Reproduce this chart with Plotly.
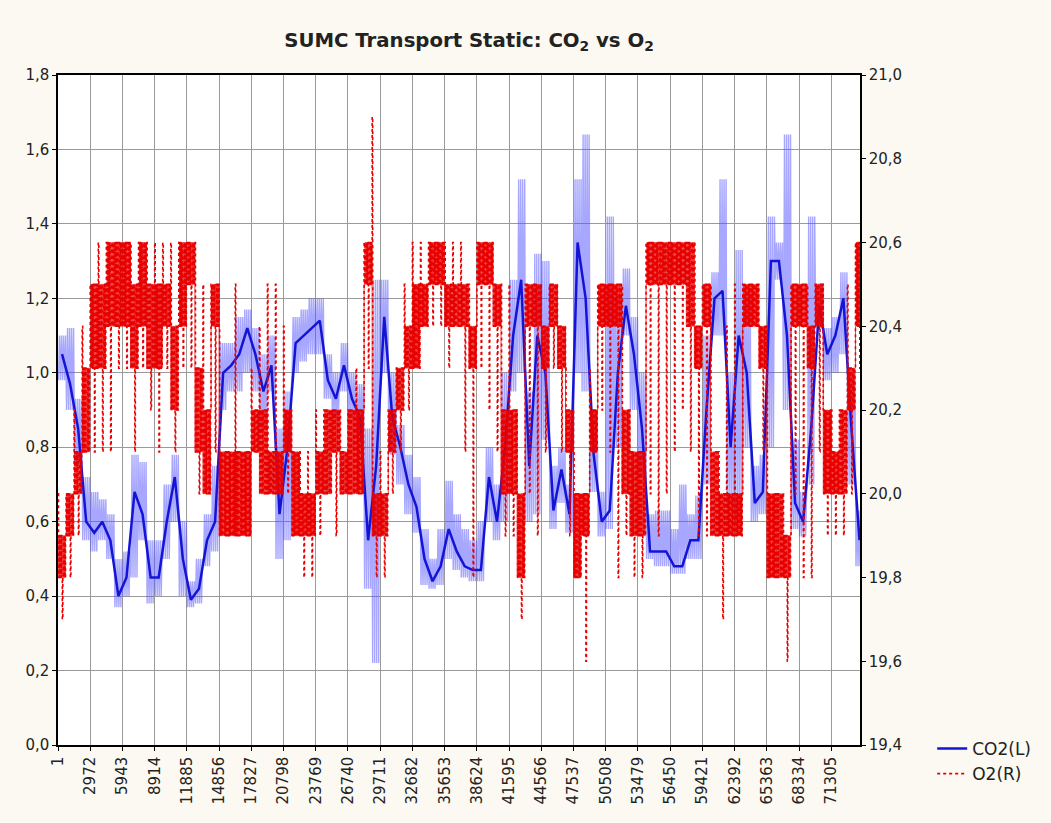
import plotly.graph_objects as go

# ---------------- data ----------------
title_text = "<b>SUMC Transport Static: CO<sub>2</sub> vs O<sub>2</sub></b>"
tick_labels = ["1", "2972", "5943", "8914", "11885", "14856", "17827", "20798",
               "23769", "26740", "29711", "32682", "35653", "38624", "41595",
               "44566", "47537", "50508", "53479", "56450", "59421", "62392",
               "65363", "68334", "71305"]
n_samples = 73950          # last sample index shown on the x axis
bins_per_label = 4         # values below are read per quarter of a label interval

# CO2 (left axis): dark core value, and the light band low / high per bin
co2 = [1.05, 0.97, 0.85, 0.60, 0.57, 0.60, 0.55, 0.40, 0.45, 0.68, 0.62, 0.45,
       0.45, 0.60, 0.72, 0.50, 0.39, 0.42, 0.55, 0.60, 1.00, 1.02, 1.05, 1.12,
       1.05, 0.95, 1.02, 0.62, 0.80, 1.08, 1.10, 1.12, 1.14, 0.98, 0.93, 1.02,
       0.93, 0.88, 0.55, 0.75, 1.15, 0.88, 0.80, 0.70, 0.64, 0.50, 0.44, 0.48,
       0.58, 0.52, 0.48, 0.47, 0.47, 0.72, 0.60, 0.80, 1.10, 1.25, 0.75, 1.10,
       1.00, 0.63, 0.74, 0.62, 1.35, 1.20, 0.78, 0.60, 0.63, 1.00, 1.18, 1.05,
       0.85, 0.52, 0.52, 0.52, 0.48, 0.48, 0.55, 0.55, 0.90, 1.20, 1.22, 0.80,
       1.10, 1.00, 0.65, 0.68, 1.30, 1.30, 1.10, 0.65, 0.60, 0.85, 1.18, 1.05,
       1.10, 1.20, 0.85, 0.55]
co2_lo = [0.98, 0.90, 0.75, 0.55, 0.52, 0.55, 0.50, 0.37, 0.40, 0.45, 0.55, 0.38,
          0.40, 0.50, 0.60, 0.40, 0.37, 0.38, 0.48, 0.52, 0.90, 0.95, 0.95, 1.00,
          0.95, 0.85, 0.95, 0.50, 0.55, 1.00, 1.03, 1.05, 1.05, 0.93, 0.88, 0.95,
          0.88, 0.83, 0.42, 0.22, 1.00, 0.78, 0.70, 0.62, 0.57, 0.43, 0.42, 0.43,
          0.50, 0.47, 0.45, 0.44, 0.44, 0.60, 0.55, 0.60, 0.95, 1.00, 0.60, 0.62,
          0.82, 0.58, 0.65, 0.57, 1.00, 0.95, 0.68, 0.56, 0.58, 0.80, 1.10, 0.90,
          0.72, 0.50, 0.48, 0.48, 0.46, 0.46, 0.50, 0.50, 0.70, 1.10, 1.10, 0.65,
          0.60, 0.80, 0.60, 0.62, 0.80, 1.25, 0.90, 0.58, 0.56, 0.70, 1.12, 0.98,
          1.00, 1.05, 0.70, 0.48]
co2_hi = [1.10, 1.12, 0.93, 0.72, 0.68, 0.66, 0.62, 0.50, 0.52, 0.78, 0.76, 0.55,
          0.55, 0.70, 0.78, 0.60, 0.44, 0.50, 0.62, 0.75, 1.08, 1.08, 1.15, 1.17,
          1.12, 1.05, 1.10, 0.85, 0.95, 1.15, 1.17, 1.20, 1.20, 1.05, 1.00, 1.08,
          1.00, 0.97, 0.85, 1.25, 1.25, 1.00, 0.86, 0.78, 0.72, 0.58, 0.50, 0.58,
          0.71, 0.62, 0.58, 0.55, 0.60, 0.80, 0.70, 1.00, 1.25, 1.52, 0.95, 1.32,
          1.30, 0.75, 0.80, 0.70, 1.52, 1.64, 0.90, 0.68, 1.42, 1.20, 1.28, 1.15,
          1.00, 0.62, 0.63, 0.63, 0.58, 0.70, 0.62, 0.67, 1.10, 1.27, 1.52, 1.00,
          1.33, 1.20, 0.75, 0.78, 1.42, 1.35, 1.64, 0.82, 0.68, 1.42, 1.24, 1.12,
          1.15, 1.27, 1.00, 0.63]

# O2 (right axis): the two levels it flickers between, and its extreme excursions
o2_lo = [19.8, 19.9, 20.0, 20.1, 20.3, 20.3, 20.4, 20.4, 20.4, 20.3, 20.4, 20.3,
         20.3, 20.4, 20.2, 20.4, 20.5, 20.1, 20.0, 20.4, 19.9, 19.9, 19.9, 19.9,
         20.1, 20.0, 20.0, 20.0, 20.1, 19.9, 19.9, 19.9, 20.0, 20.0, 20.1, 20.0,
         20.0, 20.0, 20.5, 19.9, 19.9, 20.1, 20.2, 20.3, 20.3, 20.4, 20.5, 20.5,
         20.4, 20.4, 20.4, 20.3, 20.5, 20.5, 20.4, 20.0, 20.0, 19.8, 20.4, 20.4,
         20.3, 20.4, 20.3, 20.1, 19.8, 19.9, 20.1, 20.4, 20.4, 20.4, 20.0, 19.9,
         19.9, 20.5, 20.5, 20.5, 20.5, 20.5, 20.4, 20.3, 20.4, 19.9, 19.9, 19.9,
         19.9, 20.4, 20.4, 20.3, 19.8, 19.8, 19.8, 20.4, 20.4, 20.3, 20.4, 20.0,
         20.0, 20.0, 20.2, 20.4]
o2_hi = [19.9, 20.0, 20.1, 20.3, 20.5, 20.5, 20.6, 20.6, 20.6, 20.5, 20.6, 20.5,
         20.5, 20.5, 20.4, 20.6, 20.6, 20.3, 20.2, 20.5, 20.1, 20.1, 20.1, 20.1,
         20.2, 20.2, 20.1, 20.1, 20.2, 20.1, 20.0, 20.0, 20.1, 20.2, 20.2, 20.1,
         20.2, 20.2, 20.6, 20.0, 20.0, 20.2, 20.3, 20.4, 20.5, 20.5, 20.6, 20.6,
         20.5, 20.5, 20.5, 20.4, 20.6, 20.6, 20.5, 20.2, 20.2, 20.0, 20.5, 20.5,
         20.4, 20.5, 20.4, 20.2, 20.0, 20.0, 20.2, 20.5, 20.5, 20.5, 20.2, 20.1,
         20.1, 20.6, 20.6, 20.6, 20.6, 20.6, 20.6, 20.4, 20.5, 20.1, 20.0, 20.0,
         20.0, 20.5, 20.5, 20.4, 20.0, 20.0, 19.9, 20.5, 20.5, 20.4, 20.5, 20.2,
         20.1, 20.2, 20.3, 20.6]
o2_min = [19.7, 19.8, 19.9, 20.1, 20.1, 20.1, 20.1, 20.3, 20.3, 20.1, 20.3, 20.2,
          20.1, 20.3, 20.1, 20.3, 20.3, 20.0, 20.0, 20.1, 19.9, 19.9, 19.9, 19.9,
          20.1, 20.0, 20.0, 20.0, 20.0, 19.9, 19.8, 19.8, 19.9, 20.0, 19.9, 20.0,
          20.0, 20.0, 20.3, 19.8, 19.8, 20.0, 20.1, 20.2, 20.3, 20.4, 20.4, 20.4,
          20.3, 20.4, 20.1, 19.8, 20.3, 20.2, 20.1, 19.9, 19.9, 19.7, 20.0, 19.9,
          20.1, 20.3, 20.1, 19.9, 19.8, 19.6, 20.1, 20.2, 20.1, 19.8, 19.9, 19.8,
          19.8, 20.0, 19.9, 20.0, 20.1, 20.2, 20.1, 19.9, 19.9, 19.9, 19.7, 19.9,
          19.9, 20.4, 20.4, 20.1, 19.8, 19.8, 19.6, 20.0, 19.8, 19.8, 20.1, 19.9,
          19.9, 19.9, 20.0, 20.3]
o2_max = [20.0, 20.0, 20.2, 20.4, 20.5, 20.6, 20.6, 20.6, 20.6, 20.6, 20.6, 20.6,
          20.6, 20.6, 20.6, 20.6, 20.6, 20.6, 20.5, 20.5, 20.4, 20.1, 20.5, 20.1,
          20.3, 20.4, 20.5, 20.5, 20.4, 20.1, 20.1, 20.1, 20.2, 20.2, 20.2, 20.2,
          20.2, 20.3, 20.6, 20.9, 20.1, 20.2, 20.3, 20.5, 20.6, 20.6, 20.6, 20.6,
          20.6, 20.6, 20.6, 20.5, 20.6, 20.6, 20.5, 20.5, 20.5, 20.0, 20.5, 20.5,
          20.4, 20.5, 20.4, 20.3, 20.1, 20.0, 20.3, 20.5, 20.5, 20.5, 20.5, 20.1,
          20.1, 20.6, 20.6, 20.6, 20.6, 20.6, 20.6, 20.6, 20.5, 20.5, 20.1, 20.4,
          20.5, 20.5, 20.5, 20.4, 20.3, 20.0, 20.0, 20.5, 20.5, 20.5, 20.5, 20.2,
          20.2, 20.2, 20.5, 20.6]

# ---------------- build the drawn series ----------------
tick_pos = [int(t) for t in tick_labels]
bin_w = (tick_pos[1] - tick_pos[0]) / bins_per_label

band_x, band_y = [], []
for i, (lo, hi) in enumerate(zip(co2_lo, co2_hi)):
    m = 8
    for k in range(m):
        band_x.append(tick_pos[0] + (i + (k + 0.5) / m) * bin_w)
        band_y.append(lo if k % 2 == 0 else hi)

core_x = [tick_pos[0] + (i + 0.5) * bin_w for i in range(len(co2))]

# dotted O2 trace: flicker between the two core levels, with one excursion
# up and one down in each bin
o2_x, o2_y = [], []
for i in range(len(o2_lo)):
    seq = [o2_max[i]]
    for k in range(7):
        seq += [o2_lo[i], o2_hi[i]]
    seq[8] = o2_min[i]
    for k, v in enumerate(seq):
        o2_x.append(tick_pos[0] + (i + k / len(seq)) * bin_w)
        o2_y.append(v)

# denser fill of the flicker band (drawn under the dotted line)
fill_x, fill_y = [], []
for i in range(len(o2_lo)):
    m = 10
    for k in range(m):
        fill_x.append(tick_pos[0] + (i + k / m) * bin_w)
        fill_y.append(o2_lo[i] if k % 2 == 0 else o2_hi[i])

fig = go.Figure()
fig.add_trace(go.Scatter(x=band_x, y=band_y, mode="lines",
                         line=dict(color="rgba(80,80,255,0.50)", width=1.4),
                         showlegend=False, hoverinfo="skip"))
fig.add_trace(go.Scatter(x=core_x, y=co2, mode="lines", name="CO2(L)",
                         line=dict(color="rgb(20,20,215)", width=2.5)))
fig.add_trace(go.Scatter(x=fill_x, y=fill_y, mode="lines", yaxis="y2",
                         line=dict(color="rgba(232,0,0,0.75)", width=1,
                                   shape="hv"),
                         showlegend=False, hoverinfo="skip"))
fig.add_trace(go.Scatter(x=o2_x, y=o2_y, mode="lines", name="O2(R)", yaxis="y2",
                         line=dict(color="rgb(232,0,0)", width=1.6, dash="dot",
                                   shape="hv")))

grid = "#9a9a9a"
bg = "#FBF9F1"
font_family = "DejaVu Sans, Liberation Sans, Arial, sans-serif"
fig.update_layout(
    width=1051, height=823,
    margin=dict(l=58, r=191, t=75, b=78),
    paper_bgcolor=bg, plot_bgcolor="white",
    separators=",.",
    font=dict(family=font_family, size=15, color="#222222"),
    title=dict(text=title_text, x=0.5125, xref="paper", xanchor="center",
               y=1 - 40 / 823, yref="container", yanchor="middle",
               font=dict(family=font_family, size=19.7, color="#222222")),
    xaxis=dict(range=[tick_pos[0], n_samples], tickmode="array",
               tickvals=tick_pos, ticktext=tick_labels, tickangle=-90,
               showgrid=True, gridcolor=grid, gridwidth=1, zeroline=False,
               showline=True, linecolor="black", linewidth=1.5, mirror=True,
               ticks="outside", ticklen=4, tickcolor="black",
               tickfont=dict(size=15)),
    yaxis=dict(range=[0, 1.8], dtick=0.2, tick0=0, tickformat=".1f",
               showgrid=True, gridcolor=grid, gridwidth=1, zeroline=False,
               showline=True, linecolor="black", linewidth=1.5,
               ticks="outside", ticklen=4, tickcolor="black"),
    yaxis2=dict(range=[19.4, 21.0], dtick=0.2, tick0=19.4, tickformat=".1f",
                overlaying="y", side="right", showgrid=False, zeroline=False,
                showline=True, linecolor="black", linewidth=1.5,
                ticks="outside", ticklen=4, tickcolor="black"),
    legend=dict(x=1.09, y=0.021, xanchor="left", yanchor="top",
                bgcolor="rgba(0,0,0,0)", font=dict(size=17),
                tracegroupgap=0),
)

fig.write_html(
    "out.html",
    config={"displayModeBar": False},
    post_script=("document.body.style.margin='0';"
                 "document.body.style.background='" + bg + "';"),
)
